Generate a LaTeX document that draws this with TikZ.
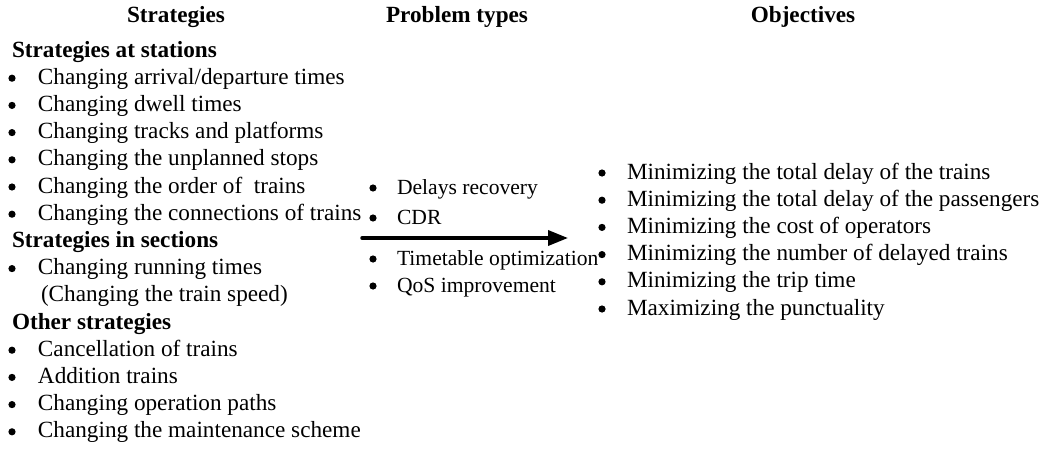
\documentclass[tikz,border=0pt]{standalone}
\usepackage{fontspec}
\setmainfont{Liberation Serif}
\usepackage{tikz}
\usetikzlibrary{arrows.meta}

\begin{document}
\begin{tikzpicture}[x=0.5pt, y=-0.5pt,
  font=\fontsize{11.6}{13.6}\selectfont,
  every node/.style={inner sep=0pt, outer sep=0pt},
  head/.style={anchor=base, font=\fontsize{11.6}{13.6}\selectfont\bfseries},
  group/.style={anchor=base west, font=\fontsize{11.6}{13.6}\selectfont\bfseries},
  item/.style={anchor=base west},
  small/.style={item, font=\fontsize{10.8}{13}\selectfont},
  dot/.style={circle, fill, minimum size=3.6pt, yshift=3pt},
  bigarrow/.style={-{Triangle[length=10pt, width=7.5pt]}, line width=1.75pt, line cap=round}
]
\useasboundingbox (0,0) rectangle (1045,455);

% column titles
\node[head] (hs) at (176,22) {Strategies};
\node[head] (hp) at (457,22) {Problem types};
\node[head] (ho) at (803,22) {Objectives};

% strategies
\node[group] (g1) at (12,57) {Strategies at stations};
\foreach \t [count=\i] in {{Changing arrival/departure times}, {Changing dwell times},
    {Changing tracks and platforms}, {Changing the unplanned stops},
    {Changing the order of\ \ trains}, {Changing the connections of trains}} {
  \node[dot] (sb\i) at (12,{57+27.2*\i}) {};
  \node[item] (st\i) at (38,{57+27.2*\i}) {\t};
}
\node[group] (g2) at (12,{57+27.2*7}) {Strategies in sections};
\node[dot] (rb) at (12,{57+27.2*8}) {};
\node[item] (rt) at (38,{57+27.2*8}) {Changing running times};
\node[item] (rt2) at (41,{57+27.2*9}) {(Changing the train speed)};
\node[group] (g3) at (12,{57+27.2*10}) {Other strategies};
\foreach \t [count=\i from 11] in {{Cancellation of trains}, {Addition trains},
    {Changing operation paths}, {Changing the maintenance scheme}} {
  \node[dot] (ob\i) at (12,{57+27.2*\i}) {};
  \node[item] (ot\i) at (38,{57+27.2*\i}) {\t};
}

% problem types
\foreach \t/\y [count=\i] in {{Delays recovery}/194, {CDR}/224,
    {Timetable optimization}/265, {QoS improvement}/292} {
  \node[dot] (pb\i) at (373,\y) {};
  \node[small] (pt\i) at (397,\y) {\t};
}

% objectives
\foreach \t [count=\i from 0] in {{Minimizing the total delay of the trains},
    {Minimizing the total delay of the passengers}, {Minimizing the cost of operators},
    {Minimizing the number of delayed trains}, {Minimizing the trip time},
    {Maximizing the punctuality}} {
  \node[dot] (jb\i) at (602,{179+27.2*\i}) {};
  \node[item] (jt\i) at (627,{179+27.2*\i}) {\t};
}

\coordinate (as) at (362,238);
\coordinate (ae) at (568,238);
\draw[bigarrow] (as) -- (ae);
\end{tikzpicture}
\end{document}
